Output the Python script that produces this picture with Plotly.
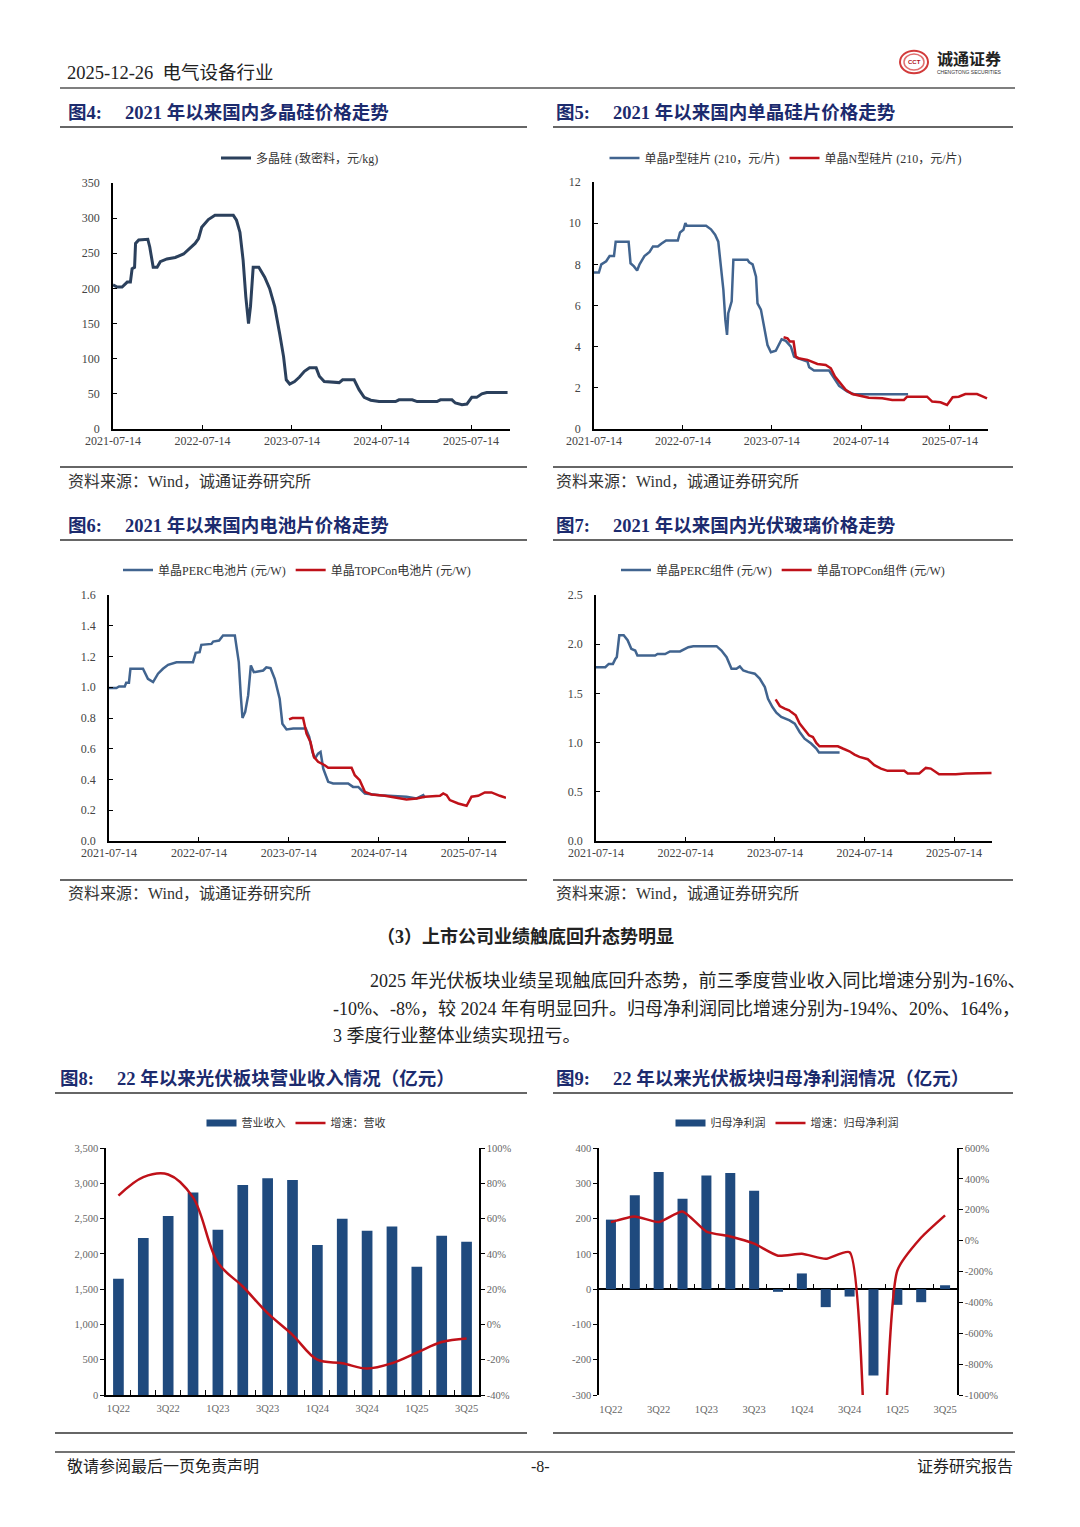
import plotly.graph_objects as go

W, H = 1080, 1527
def XP(px): return px / W
def YP(py): return 1 - py / H

SERIF = "Liberation Serif, Noto Sans CJK SC, serif"
SANS = "Noto Sans CJK SC, Noto Sans, sans-serif"

# ---------------- data ----------------
date_ticks = ["2021-07-14", "2022-07-14", "2023-07-14", "2024-07-14", "2025-07-14"]

poly_dates = ["2021-07-14","2021-07-31","2021-08-20","2021-09-10","2021-09-23","2021-09-30","2021-10-10","2021-10-14",
              "2021-10-27","2021-12-03","2021-12-11","2021-12-25","2022-01-10","2022-01-23","2022-02-19","2022-03-25",
              "2022-04-28","2022-06-14","2022-06-28","2022-07-11","2022-08-07","2022-09-03","2022-11-17","2022-11-30",
              "2022-12-14","2022-12-27","2023-01-07","2023-01-18","2023-01-26","2023-02-06","2023-03-01","2023-03-25",
              "2023-04-14","2023-05-05","2023-05-25","2023-06-10","2023-06-21","2023-07-05","2023-07-25","2023-08-14",
              "2023-09-03","2023-09-24","2023-10-21","2023-11-03","2023-11-23","2024-01-23","2024-02-06","2024-03-24",
              "2024-04-13","2024-05-04","2024-05-31","2024-07-04","2024-09-09","2024-09-23","2024-11-16","2024-12-06",
              "2025-02-25","2025-03-11","2025-04-27","2025-05-11","2025-06-07","2025-06-27","2025-07-17","2025-08-06",
              "2025-08-27","2025-09-16","2025-12-10"]
poly_vals = [205,202,202,209,209,228,230,264,
             269,270,259,230,230,238,242,244,
             249,264,271,287,298,304,304,297,
             280,240,188,150,174,230,230,216,
             200,174,136,103,70,64,67.5,74,
             82,87,87,75,67.5,66,70,70,
             56,45,41,39,39,41.5,41.5,39,
             39,41.5,41.5,37,34.5,35.5,45,45,
             50,52,52]

wafer_p_dates = ["2021-07-14","2021-08-03","2021-08-13","2021-09-02","2021-09-16","2021-10-04","2021-10-11","2021-12-03",
                 "2021-12-11","2021-12-25","2022-01-07","2022-01-17","2022-02-06","2022-02-27","2022-03-13","2022-04-02",
                 "2022-04-16","2022-05-06","2022-06-23","2022-07-02","2022-07-16","2022-07-24","2022-07-30","2022-10-17",
                 "2022-11-06","2022-11-23","2022-12-06","2022-12-17","2022-12-27","2023-01-04","2023-01-11","2023-01-16",
                 "2023-01-30","2023-02-06","2023-04-05","2023-04-12","2023-04-26","2023-05-10","2023-05-16","2023-05-30",
                 "2023-06-13","2023-06-26","2023-07-10","2023-07-30","2023-08-23","2023-09-09","2023-09-30","2023-10-13",
                 "2023-10-27","2023-12-07","2023-12-14","2024-01-03","2024-03-05","2024-03-25","2024-04-15","2024-05-19",
                 "2024-06-15","2025-01-23"]
wafer_p_vals = [7.6,7.6,8.0,8.15,8.4,8.4,9.1,9.1,
                8.05,7.9,7.7,8.0,8.4,8.6,8.87,8.87,
                9.0,9.16,9.16,9.55,9.68,10.0,9.87,9.87,
                9.7,9.44,9.1,7.9,6.76,5.3,4.57,5.63,
                6.2,8.22,8.22,8.1,8.0,7.4,6.1,5.8,
                4.8,4.08,3.73,3.8,4.36,4.28,4.0,3.52,
                3.44,3.28,3.0,2.84,2.84,2.46,2.09,1.82,
                1.69,1.69]

wafer_n_dates = ["2023-08-31","2023-09-16","2023-09-26","2023-10-11","2023-10-20","2023-10-31","2023-12-07","2023-12-27",
                 "2024-01-17","2024-02-20","2024-03-12","2024-03-29","2024-04-21","2024-05-12","2024-06-08","2024-07-19",
                 "2024-08-15","2024-10-09","2024-11-19","2025-01-06","2025-01-19","2025-04-11","2025-05-02","2025-06-05",
                 "2025-07-02","2025-07-25","2025-08-19","2025-09-15","2025-11-02","2025-11-22","2025-12-13"]
wafer_n_vals = [4.46,4.41,4.25,4.25,3.52,3.44,3.36,3.28,
                3.16,3.11,2.95,2.55,2.22,1.9,1.7,1.6,
                1.52,1.49,1.41,1.41,1.57,1.57,1.33,1.3,
                1.17,1.54,1.57,1.7,1.7,1.6,1.49]

cell_perc_dates = ["2021-07-14","2021-08-13","2021-08-24","2021-09-16","2021-09-22","2021-10-03","2021-10-09","2021-11-29",
                   "2021-12-19","2022-01-09","2022-01-29","2022-02-18","2022-03-11","2022-03-31","2022-04-14","2022-06-20",
                   "2022-07-01","2022-07-17","2022-07-24","2022-09-03","2022-09-10","2022-10-04","2022-10-20","2022-12-07",
                   "2022-12-16","2022-12-23","2022-12-31","2023-01-07","2023-01-18","2023-01-30","2023-02-10","2023-02-22",
                   "2023-04-01","2023-04-14","2023-05-01","2023-05-18","2023-06-07","2023-06-18","2023-07-05","2023-08-01",
                   "2023-09-21","2023-10-05","2023-10-18","2023-10-28","2023-11-10","2023-11-20","2023-12-01","2023-12-21",
                   "2024-01-10","2024-03-11","2024-03-31","2024-04-21","2024-05-18","2024-07-18","2024-11-03","2024-12-14",
                   "2025-01-10","2025-01-17"]
cell_perc_vals = [0.995,0.995,1.005,1.005,1.03,1.03,1.12,1.12,
                  1.055,1.034,1.088,1.12,1.146,1.159,1.163,1.163,
                  1.224,1.228,1.276,1.282,1.297,1.304,1.336,1.336,
                  1.25,1.163,0.947,0.8,0.839,0.947,1.142,1.098,
                  1.109,1.13,1.124,1.055,0.925,0.763,0.726,0.731,
                  0.731,0.677,0.579,0.536,0.568,0.579,0.471,0.385,
                  0.374,0.374,0.352,0.352,0.309,0.298,0.288,0.277,
                  0.298,0.28]

cell_topcon_dates = ["2023-07-15","2023-07-29","2023-09-10","2023-09-24","2023-10-10","2023-10-24","2023-11-10","2023-12-07",
                     "2023-12-21","2024-03-25","2024-04-07","2024-04-27","2024-05-18","2024-06-14","2024-08-07","2024-09-23",
                     "2024-11-03","2024-12-14","2025-01-17","2025-03-19","2025-04-01","2025-04-15","2025-04-28","2025-06-01",
                     "2025-07-05","2025-07-25","2025-08-21","2025-09-17","2025-10-14","2025-11-17","2025-12-12"]
cell_topcon_vals = [0.791,0.8,0.8,0.698,0.644,0.547,0.515,0.493,
                    0.476,0.476,0.428,0.396,0.32,0.303,0.294,0.281,
                    0.27,0.277,0.288,0.294,0.309,0.298,0.266,0.244,
                    0.229,0.288,0.294,0.316,0.316,0.294,0.281]

mod_perc_dates = ["2021-07-14","2021-08-21","2021-09-04","2021-09-21","2021-10-01","2021-10-07","2021-10-17","2021-11-04",
                  "2021-11-20","2021-12-05","2021-12-21","2021-12-30","2022-03-12","2022-03-22","2022-04-22","2022-05-12",
                  "2022-06-22","2022-07-06","2022-07-26","2022-08-15","2022-11-18","2022-12-08","2022-12-29","2023-01-18",
                  "2023-02-07","2023-02-21","2023-03-07","2023-03-27","2023-04-23","2023-05-13","2023-06-03","2023-06-16",
                  "2023-07-04","2023-07-20","2023-08-09","2023-09-12","2023-10-03","2023-10-23","2023-11-12","2023-12-09",
                  "2023-12-30","2024-01-10","2024-04-03"]
mod_perc_vals = [1.767,1.767,1.80,1.80,1.85,1.87,2.09,2.09,
                 2.04,1.953,1.936,1.885,1.885,1.90,1.90,1.926,
                 1.926,1.946,1.97,1.98,1.98,1.936,1.868,1.75,
                 1.75,1.774,1.733,1.716,1.70,1.65,1.564,1.446,
                 1.361,1.304,1.26,1.226,1.193,1.108,1.04,0.99,
                 0.94,0.899,0.899]

mod_topcon_dates = ["2023-07-17","2023-08-03","2023-08-23","2023-09-10","2023-09-19","2023-10-07","2023-10-23","2023-11-12",
                    "2023-11-30","2023-12-16","2023-12-30","2024-01-12","2024-03-27","2024-04-16","2024-05-13","2024-06-03",
                    "2024-06-23","2024-07-27","2024-08-23","2024-09-19","2024-10-16","2024-12-23","2025-01-06","2025-02-22",
                    "2025-03-21","2025-04-10","2025-05-14","2025-07-21","2025-08-31","2025-12-14"]
mod_topcon_vals = [1.439,1.372,1.345,1.328,1.31,1.277,1.193,1.125,
                   1.074,1.057,0.997,0.963,0.963,0.94,0.912,0.878,
                   0.855,0.831,0.77,0.736,0.713,0.713,0.686,0.686,
                   0.743,0.736,0.679,0.679,0.686,0.692]

quarters = ["1Q22","2Q22","3Q22","4Q22","1Q23","2Q23","3Q23","4Q23",
            "1Q24","2Q24","3Q24","4Q24","1Q25","2Q25","3Q25"]
revenue = [1646,2223,2535,2871,2341,2975,3070,3046,2124,2497,2327,2389,1816,2256,2171]
revenue_growth = [73,83.5,85,72,35,21.5,6.4,-5.9,-20,-22,-25,-22,-16,-10,-8]
profit = [197,266,332,256,322,329,279,-7.6,44.5,-51,-21,-245,-44.5,-37,11]
profit_growth = [120,157,120,189,59,27,-20,-98,-85,-118,-75,-3100,-194,20,164]

quarter_labels = ["1Q22","3Q22","1Q23","3Q23","1Q24","3Q24","1Q25","3Q25"]
rev_left_ticks = [0,500,1000,1500,2000,2500,3000,3500]
rev_right_ticks = [-40,-20,0,20,40,60,80,100]
rev_right_text = ["-40%","-20%","0%","20%","40%","60%","80%","100%"]
prof_left_ticks = [-300,-200,-100,0,100,200,300,400]
prof_left_text = ["-300","-200","-100","0","100","200","300","400"]
prof_right_ticks = [-1000,-800,-600,-400,-200,0,200,400,600]
prof_right_text = ["-1000%","-800%","-600%","-400%","-200%","0%","200%","400%","600%"]

# ---------------- colours ----------------
C_DARK = "#2b405c"
C_BLUE = "#41648f"
C_RED = "#bf1119"
C_BAR = "#1f4a7e"
C_TITLE = "#1c2b6e"

fig = go.Figure()

qidx = list(range(len(quarters)))
qlabel_pos = [quarters.index(q) for q in quarter_labels]
boundaries = [i + 0.5 for i in qidx[:-1]]

fig.add_trace(go.Scatter(x=poly_dates, y=poly_vals, mode="lines", line=dict(color=C_DARK, width=3),
                         name="多晶硅 (致密料，元/kg)", xaxis="x", yaxis="y", legend="legend"))
fig.add_trace(go.Scatter(x=wafer_p_dates, y=wafer_p_vals, mode="lines", line=dict(color=C_BLUE, width=2.5),
                         name="单晶P型硅片 (210，元/片)", xaxis="x2", yaxis="y2", legend="legend2"))
fig.add_trace(go.Scatter(x=wafer_n_dates, y=wafer_n_vals, mode="lines", line=dict(color=C_RED, width=2.5),
                         name="单晶N型硅片 (210，元/片)", xaxis="x2", yaxis="y2", legend="legend2"))
fig.add_trace(go.Scatter(x=cell_perc_dates, y=cell_perc_vals, mode="lines", line=dict(color=C_BLUE, width=2.5),
                         name="单晶PERC电池片 (元/W)", xaxis="x3", yaxis="y3", legend="legend3"))
fig.add_trace(go.Scatter(x=cell_topcon_dates, y=cell_topcon_vals, mode="lines", line=dict(color=C_RED, width=2.5),
                         name="单晶TOPCon电池片 (元/W)", xaxis="x3", yaxis="y3", legend="legend3"))
fig.add_trace(go.Scatter(x=mod_perc_dates, y=mod_perc_vals, mode="lines", line=dict(color=C_BLUE, width=2.5),
                         name="单晶PERC组件 (元/W)", xaxis="x4", yaxis="y4", legend="legend4"))
fig.add_trace(go.Scatter(x=mod_topcon_dates, y=mod_topcon_vals, mode="lines", line=dict(color=C_RED, width=2.5),
                         name="单晶TOPCon组件 (元/W)", xaxis="x4", yaxis="y4", legend="legend4"))

# chart 8
fig.add_trace(go.Bar(x=qidx, y=revenue, width=0.43, marker=dict(color=C_BAR, line=dict(width=0)),
                     name="营业收入", showlegend=False, xaxis="x5", yaxis="y5"))
fig.add_trace(go.Scatter(x=[None], y=[None], mode="lines", line=dict(color=C_BAR, width=7),
                         name="营业收入", xaxis="x5", yaxis="y5", legend="legend5"))
fig.add_trace(go.Scatter(x=qidx, y=revenue_growth, mode="lines", line=dict(color=C_RED, width=2.5, shape="spline", smoothing=1),
                         name="增速：营收", xaxis="x5", yaxis="y6", legend="legend5"))
# chart 9
fig.add_trace(go.Bar(x=qidx, y=profit, width=0.42, marker=dict(color=C_BAR, line=dict(width=0)),
                     name="归母净利润", showlegend=False, xaxis="x6", yaxis="y7"))
fig.add_trace(go.Scatter(x=[None], y=[None], mode="lines", line=dict(color=C_BAR, width=7),
                         name="归母净利润", xaxis="x6", yaxis="y7", legend="legend6"))
fig.add_trace(go.Scatter(x=qidx, y=profit_growth, mode="lines", line=dict(color=C_RED, width=2.5, shape="spline", smoothing=0.55),
                         name="增速：归母净利润", xaxis="x6", yaxis="y8", legend="legend6"))
fig.add_trace(go.Scatter(x=[], y=[], mode="lines", showlegend=False, xaxis="x7", yaxis="y7"))

# ---------------- axes ----------------
tick_line = dict(family=SERIF, size=12, color="#444")
tick_bar = dict(family=SERIF, size=10.5, color="#666")

def date_x(x0, x1, anchor, end):
    return dict(domain=[XP(x0), XP(x1)], anchor=anchor, type="date", range=["2021-07-14", end],
                tickmode="array", tickvals=date_ticks, ticktext=date_ticks, automargin=False,
                showline=True, linecolor="black", linewidth=1.5, ticks="inside", ticklen=4,
                tickcolor="black", showgrid=False, zeroline=False, tickfont=tick_line)

def val_y(y0, y1, anchor, rng, dtick, fmt=None):
    d = dict(domain=[YP(y1), YP(y0)], anchor=anchor, range=rng, dtick=dtick, tick0=0, automargin=False,
             showline=True, linecolor="black", linewidth=1.5, ticks="inside", ticklen=4,
             tickcolor="black", showgrid=False, zeroline=False, tickfont=tick_line,
             ticklabelstandoff=9)
    if fmt:
        d["tickformat"] = fmt
    return d

layout_axes = dict(
    xaxis=date_x(113, 510, "y", "2025-12-20"),
    yaxis=val_y(183, 429, "x", [0, 350], 50),
    xaxis2=date_x(594, 988, "y2", "2025-12-17"),
    yaxis2=val_y(182, 429, "x2", [0, 12], 2),
    xaxis3=date_x(109, 506, "y3", "2025-12-12"),
    yaxis3=val_y(595, 841, "x3", [0, 1.6], 0.2, ".1f"),
    xaxis4=date_x(596, 992, "y4", "2025-12-16"),
    yaxis4=val_y(595, 841, "x4", [0, 2.5], 0.5, ".1f"),
    xaxis5=dict(domain=[XP(106), XP(479)], anchor="y5", range=[-0.5, len(quarters) - 0.5], automargin=False,
                tickmode="array", tickvals=qlabel_pos, ticktext=quarter_labels, ticks="",
                showline=True, linecolor="black", linewidth=1.5, showgrid=False, zeroline=False,
                tickfont=tick_bar, ticklabelstandoff=3,
                minor=dict(tickmode="array", tickvals=boundaries, ticks="inside", ticklen=5,
                           tickcolor="black", tickwidth=1, showgrid=False)),
    yaxis5=dict(domain=[YP(1395), YP(1148)], anchor="x5", range=[0, 3500], tickmode="array", automargin=False,
                tickvals=rev_left_ticks, tickformat=",", showline=True, linecolor="black", linewidth=1.5,
                ticks="outside", ticklen=4, tickcolor="black", showgrid=False, zeroline=False,
                tickfont=tick_bar),
    yaxis6=dict(overlaying="y5", anchor="x5", side="right", range=[-40, 100], tickmode="array", automargin=False,
                tickvals=rev_right_ticks, ticktext=rev_right_text, showline=True, linecolor="black",
                linewidth=1.5, ticks="outside", ticklen=4, tickcolor="black", showgrid=False,
                zeroline=False, tickfont=tick_bar),
    xaxis6=dict(domain=[XP(599), XP(957)], anchor="y7", range=[-0.5, len(quarters) - 0.5], automargin=False,
                tickmode="array", tickvals=qlabel_pos, ticktext=quarter_labels, ticks="",
                showline=False, showgrid=False, zeroline=False, tickfont=tick_bar, ticklabelstandoff=6),
    xaxis7=dict(overlaying="x6", anchor="free", position=YP(1148 + 247 * 400 / 700), automargin=False,
                range=[-0.5, len(quarters) - 0.5], showticklabels=False, ticks="",
                showline=False, showgrid=False, zeroline=False,
                minor=dict(tickmode="array", tickvals=boundaries, ticks="inside", ticklen=5,
                           tickcolor="black", tickwidth=1, showgrid=False)),
    yaxis7=dict(domain=[YP(1395), YP(1148)], anchor="x6", range=[-300, 400], tickmode="array", automargin=False,
                tickvals=prof_left_ticks, ticktext=prof_left_text, showline=True, linecolor="black",
                linewidth=1.5, ticks="outside", ticklen=4, tickcolor="black", showgrid=False,
                zeroline=True, zerolinecolor="black", zerolinewidth=1.5, tickfont=tick_bar),
    yaxis8=dict(overlaying="y7", anchor="x6", side="right", range=[-1000, 600], tickmode="array", automargin=False,
                tickvals=prof_right_ticks, ticktext=prof_right_text, showline=True, linecolor="black",
                linewidth=1.5, ticks="outside", ticklen=4, tickcolor="black", showgrid=False,
                zeroline=False, tickfont=tick_bar),
)

def leg(xc, yc, fam=SERIF, size=12):
    return dict(x=XP(xc), y=YP(yc), xanchor="center", yanchor="middle", orientation="h",
                font=dict(family=fam, size=size, color="#333"), bgcolor="rgba(0,0,0,0)",
                itemwidth=30, tracegroupgap=0)

# ---------------- page text ----------------
annotations = []
def text(s, x, y, size=15, color="#222", anchor="left", fam=SERIF):
    annotations.append(dict(text=s, x=XP(x), y=YP(y), xref="paper", yref="paper", xanchor=anchor,
                            yanchor="middle", showarrow=False, borderpad=0,
                            font=dict(family=fam, size=size, color=color)))

text("2025-12-26  电气设备行业", 66, 73, 18.5)
text("<b>诚通证券</b>", 936, 59, 16, "#222")
text("CHENGTONG SECURITIES", 936, 72, 5, "#333", fam="Liberation Sans")
text("<b>CCT</b>", 914, 62, 6, "#b01020", anchor="center", fam="Liberation Sans")

titles = [("图4:&nbsp;&nbsp;&nbsp;&nbsp;&nbsp;2021 年以来国内多晶硅价格走势", 67, 113),
          ("图5:&nbsp;&nbsp;&nbsp;&nbsp;&nbsp;2021 年以来国内单晶硅片价格走势", 555, 113),
          ("图6:&nbsp;&nbsp;&nbsp;&nbsp;&nbsp;2021 年以来国内电池片价格走势", 67, 525),
          ("图7:&nbsp;&nbsp;&nbsp;&nbsp;&nbsp;2021 年以来国内光伏玻璃价格走势", 555, 525),
          ("图8:&nbsp;&nbsp;&nbsp;&nbsp;&nbsp;22 年以来光伏板块营业收入情况（亿元）", 59, 1078),
          ("图9:&nbsp;&nbsp;&nbsp;&nbsp;&nbsp;22 年以来光伏板块归母净利润情况（亿元）", 555, 1078)]
for s, x, y in titles:
    text("<b>" + s + "</b>", x, y, 18.5, C_TITLE)

for x, y in [(67, 482), (555, 482), (67, 894), (555, 894)]:
    text("资料来源：Wind，诚通证券研究所", x, y, 16, "#333")

text("<b>（3）上市公司业绩触底回升态势明显</b>", 525, 937, 18, "#222", anchor="center")
text("2025 年光伏板块业绩呈现触底回升态势，前三季度营业收入同比增速分别为-16%、", 369, 981, 18, "#222")
text("-10%、-8%，较 2024 年有明显回升。归母净利润同比增速分别为-194%、20%、164%，", 332, 1009, 18, "#222")
text("3 季度行业整体业绩实现扭亏。", 332, 1036, 18, "#222")

text("敬请参阅最后一页免责声明", 66, 1466, 16, "#222")
text("-8-", 540, 1466, 16, "#222", anchor="center")
text("证券研究报告", 1014, 1466, 16, "#222", anchor="right")

shapes = []
def hline(x0, x1, y, color="#666", width=2):
    shapes.append(dict(type="line", xref="paper", yref="paper", x0=XP(x0), x1=XP(x1), y0=YP(y), y1=YP(y),
                       line=dict(color=color, width=width)))

hline(60, 1015, 88, "#555", 1.5)
for y in (127, 467, 540, 880):
    hline(60, 527, y)
    hline(553, 1013, y)
for y in (1093, 1433):
    hline(55, 527, y)
    hline(553, 1013, y)
hline(55, 1015, 1452, "#444", 1.5)

# logo rings
for r, c, w in [(14, "#d23a3a", 2), (10, "#e07070", 1.5)]:
    shapes.append(dict(type="circle", xref="paper", yref="paper", x0=XP(914 - r), x1=XP(914 + r),
                       y0=YP(62 + r * 0.8), y1=YP(62 - r * 0.8), line=dict(color=c, width=w)))

fig.update_layout(
    width=W, height=H, autosize=False, margin=dict(l=0, r=0, t=0, b=0, pad=0),
    paper_bgcolor="white", plot_bgcolor="white", showlegend=True, hovermode=False,
    bargap=0.5,
    legend=leg(300, 158), legend2=leg(786, 158), legend3=leg(297, 570), legend4=leg(783, 570),
    legend5=leg(296, 1123, SANS, 11), legend6=leg(787, 1123, SANS, 11),
    annotations=annotations, shapes=shapes,
    **layout_axes,
)

fig.write_html("out.html", config={"displayModeBar": False, "responsive": False},
               post_script="document.body.style.margin='0';document.body.style.overflow='hidden';")
